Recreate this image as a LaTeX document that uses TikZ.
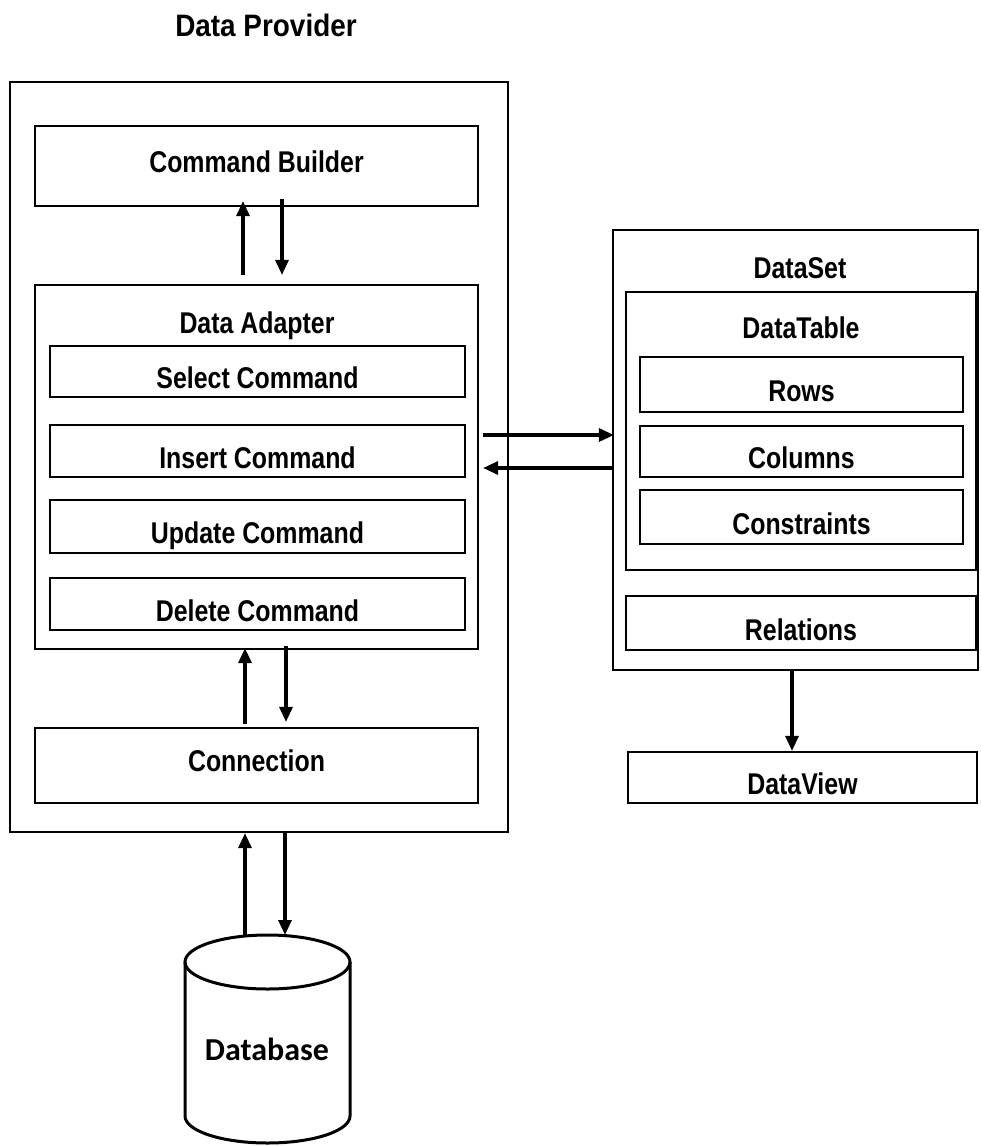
\documentclass[tikz,border=0pt]{standalone}
\usepackage{fontspec}
\setmainfont[FakeStretch=0.83]{Liberation Sans}
\newfontfamily\titlefont[FakeStretch=0.9]{Liberation Sans}
\newfontfamily\dbfont{Carlito}
\usetikzlibrary{arrows.meta}
\begin{document}
\begin{tikzpicture}[x=1pt,y=1pt,
  box/.style={draw, line width=2.2pt, inner sep=0pt,
    font=\fontsize{30}{36}\selectfont\bfseries},
  lowtext/.style={text height=34pt, text depth=0pt},
  hightext/.style={text height=22pt, text depth=10pt},
  lbl/.style={inner sep=0pt, text height=22pt, text depth=0pt,
    font=\fontsize{30}{36}\selectfont\bfseries},
  arr/.style={line width=3.2pt, -{Triangle[length=15pt,width=13pt]}}]
\useasboundingbox (0,0) rectangle (980,-1146);

% title
\node[lbl, font=\titlefont\fontsize{31}{37}\selectfont\bfseries] (title) at (266,-25) {Data Provider};

% Data Provider
\node[box, minimum width=498pt, minimum height=750pt] (dp) at (259,-457) {};
\node[box, hightext, minimum width=443pt, minimum height=80pt] (cb) at (256.5,-166) {Command Builder};
\node[box, minimum width=443pt, minimum height=364pt] (da) at (256.5,-467) {};
\node[lbl] (dalbl) at (257,-322) {Data Adapter};
\node[box, lowtext, minimum width=415pt, minimum height=51pt] (sel) at (257.5,-371.5) {Select Command};
\node[box, lowtext, minimum width=415pt, minimum height=52pt] (ins) at (257.5,-451) {Insert Command};
\node[box, lowtext, minimum width=415pt, minimum height=53pt] (upd) at (257.5,-526.5) {Update Command};
\node[box, lowtext, minimum width=415pt, minimum height=52pt] (del) at (257.5,-604) {Delete Command};
\node[box, hightext, minimum width=443pt, minimum height=75pt] (conn) at (256.5,-765.5) {Connection};

% Database cylinder
\draw[line width=3pt, fill=white] (185,-962) -- (185,-1116)
  arc[start angle=180, end angle=360, x radius=82.5, y radius=27] -- (350,-962);
\draw[line width=3pt] (267.5,-962) ellipse[x radius=82.5, y radius=27];
\coordinate (dbtop) at (267.5,-935);
\node[inner sep=0pt, text height=21pt, text depth=0pt,
  font=\dbfont\fontsize{32}{38}\selectfont\bfseries] (db) at (267,-1050) {Database};

% DataSet
\node[box, minimum width=365pt, minimum height=440pt] (ds) at (795.5,-450) {};
\node[lbl] (dslbl) at (800,-267) {DataSet};
\node[box, minimum width=350pt, minimum height=278pt] (dt) at (801,-431) {};
\node[lbl] (dtlbl) at (801,-327) {DataTable};
\node[box, lowtext, minimum width=323pt, minimum height=55pt] (rows) at (801.5,-384.5) {Rows};
\node[box, lowtext, minimum width=323pt, minimum height=51pt] (cols) at (801.5,-451.5) {Columns};
\node[box, lowtext, minimum width=323pt, minimum height=54pt] (cons) at (801.5,-517) {Constraints};
\node[box, lowtext, minimum width=350pt, minimum height=54pt] (rel) at (801,-623) {Relations};
\node[box, lowtext, minimum width=349pt, minimum height=51pt] (dv) at (802.5,-777.5) {DataView};

% arrows
\draw[arr] ([xshift=-13.5pt,yshift=9pt]da.north) -- ([xshift=-13.5pt,yshift=6pt]cb.south);
\draw[arr] ([xshift=25.5pt,yshift=8pt]cb.south) -- ([xshift=25.5pt,yshift=9pt]da.north);
\draw[arr] ([xshift=-11.5pt,yshift=3pt]conn.north) -- ([xshift=-11.5pt,yshift=2pt]da.south);
\draw[arr] ([xshift=29.5pt,yshift=4pt]da.south) -- ([xshift=29.5pt,yshift=5pt]conn.north);
\draw[arr] ([xshift=-22.5pt,yshift=-1pt]dbtop) -- ([xshift=-14pt]dp.south);
\draw[arr] ([xshift=26pt]dp.south) -- ([xshift=17.5pt]dbtop);
\draw[arr] ([xshift=4pt,yshift=32pt]da.east) -- ([xshift=2pt,yshift=15pt]ds.west);
\draw[arr] ([xshift=2pt,yshift=-18pt]ds.west) -- ([xshift=4pt,yshift=-1pt]da.east);
\draw[arr] ([xshift=-3.5pt]ds.south) -- ([xshift=-10.5pt]dv.north);
\end{tikzpicture}
\end{document}
